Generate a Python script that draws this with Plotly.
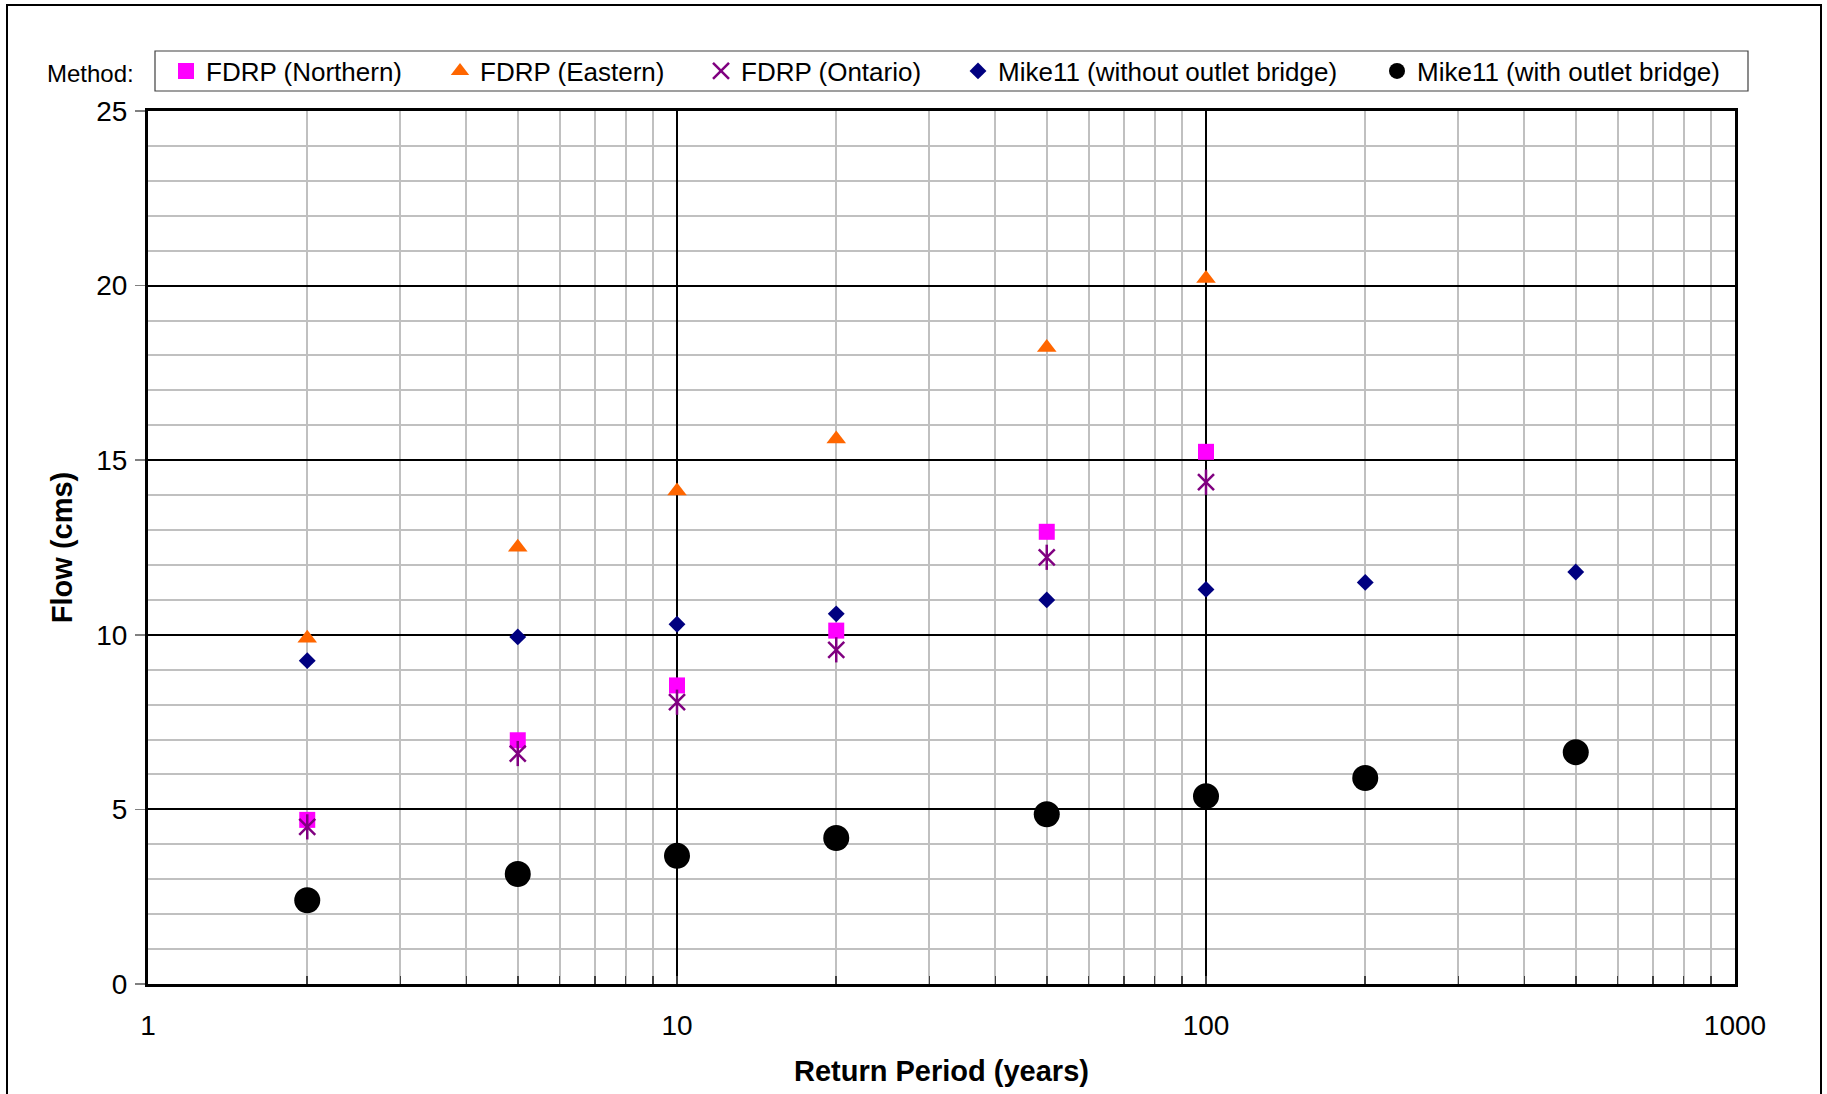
import plotly.graph_objects as go

# ---- data ----
return_periods_fdrp = [2, 5, 10, 20, 50, 100]
return_periods_mike = [2, 5, 10, 20, 50, 100, 200, 500]
fdrp_northern = [4.70, 6.98, 8.55, 10.12, 12.95, 15.24]
fdrp_eastern = [9.90, 12.51, 14.12, 15.61, 18.23, 20.20]
fdrp_ontario = [4.50, 6.60, 8.07, 9.57, 12.22, 14.37]
mike_without = [9.26, 9.94, 10.30, 10.60, 11.00, 11.30, 11.50, 11.80]
mike_with = [2.40, 3.15, 3.67, 4.18, 4.86, 5.38, 5.90, 6.64]

x_tickvals = [1, 10, 100, 1000]
x_ticktext = ["1", "10", "100", "1000"]
y_tickvals = [0, 5, 10, 15, 20, 25]

series_names = ["FDRP (Northern)", "FDRP (Eastern)", "FDRP (Ontario)",
                "Mike11 (without outlet bridge)", "Mike11 (with outlet bridge)"]

# ---- layout geometry (pixels; body margin removed by post_script) ----
W, H = 1827, 1094
L, R, T, B = 148, 1735, 111, 984
PW, PH = R - L, B - T


def px(p):
    return (p - L) / PW


def py(p):
    return (B - p) / PH


FONT = "Arial, Liberation Sans, sans-serif"

fig = go.Figure()

fig.add_trace(go.Scatter(x=return_periods_fdrp, y=fdrp_northern, mode="markers",
                         name=series_names[0], legend="legend",
                         marker=dict(symbol="square", size=16, color="#FF00FF", line=dict(width=0))))
fig.add_trace(go.Scatter(x=return_periods_fdrp, y=fdrp_eastern, mode="markers",
                         name=series_names[1], legend="legend2",
                         marker=dict(symbol="triangle-up", size=17, color="#FF6600", line=dict(width=0))))
fig.add_trace(go.Scatter(x=return_periods_fdrp, y=fdrp_ontario, mode="markers",
                         name=series_names[2], legend="legend3",
                         marker=dict(symbol="x-thin-open", size=16, color="#800080",
                                     line=dict(width=2.5, color="#800080"))))
fig.add_trace(go.Scatter(x=return_periods_fdrp, y=fdrp_ontario, mode="markers",
                         name=series_names[2], showlegend=False, hoverinfo="skip",
                         marker=dict(symbol="line-ns-open", size=18, color="#800080",
                                     line=dict(width=2.5, color="#800080"))))
fig.add_trace(go.Scatter(x=return_periods_mike, y=mike_without, mode="markers",
                         name=series_names[3], legend="legend4",
                         marker=dict(symbol="diamond", size=13, color="#000080", line=dict(width=0))))
fig.add_trace(go.Scatter(x=return_periods_mike, y=mike_with, mode="markers",
                         name=series_names[4], legend="legend5",
                         marker=dict(symbol="circle", size=26, color="#000000", line=dict(width=0))))

legend_sym_centers = [186, 460, 721, 978, 1397]
legend_y = py(71)
leg_common = dict(orientation="h", xanchor="left", yanchor="middle", y=legend_y,
                  bgcolor="rgba(0,0,0,0)", borderwidth=0,
                  font=dict(family=FONT, size=26, color="black"),
                  itemsizing="trace")
legends = {}
for i, c in enumerate(legend_sym_centers):
    key = "legend" if i == 0 else f"legend{i+1}"
    legends[key] = dict(x=px(c - 20), **leg_common)

fig.update_layout(
    width=W, height=H,
    margin=dict(l=L, r=W - R, t=T, b=H - B),
    paper_bgcolor="white", plot_bgcolor="white",
    font=dict(family=FONT, size=28, color="black"),
    showlegend=True,
    **legends,
    xaxis=dict(
        type="log", range=[0, 3],
        tickvals=x_tickvals, ticktext=x_ticktext,
        showgrid=True, gridcolor="black", gridwidth=2,
        ticks="inside", ticklen=8, tickcolor="#404040", tickwidth=1.5,
        minor=dict(dtick="D1", showgrid=True, gridcolor="#C0C0C0", gridwidth=2,
                   ticks="inside", ticklen=8, tickcolor="#404040", tickwidth=1.5),
        showline=True, linecolor="black", linewidth=3, mirror=True,
        zeroline=False,
        tickfont=dict(family=FONT, size=28, color="black"),
        ticklabelstandoff=14,
        title=dict(text="<b>Return Period (years)</b>", standoff=22,
                   font=dict(family=FONT, size=29, color="black")),
    ),
    yaxis=dict(
        range=[0, 25], tickvals=y_tickvals,
        showgrid=True, gridcolor="black", gridwidth=2,
        ticks="outside", ticklen=10, tickcolor="#808080", tickwidth=1.5,
        minor=dict(dtick=1, showgrid=True, gridcolor="#C0C0C0", gridwidth=2),
        showline=True, linecolor="black", linewidth=3, mirror=True,
        zeroline=False,
        tickfont=dict(family=FONT, size=28, color="black"),
        ticklabelstandoff=2,
        title=dict(text="<b>Flow (cms)</b>", standoff=16,
                   font=dict(family=FONT, size=29, color="black")),
    ),
    shapes=[
        # outer chart border
        dict(type="rect", xref="paper", yref="paper",
             x0=px(7), x1=px(1821), y0=py(1110), y1=py(5),
             line=dict(color="black", width=2), fillcolor="rgba(0,0,0,0)", layer="below"),
        # legend box
        dict(type="rect", xref="paper", yref="paper",
             x0=px(155), x1=px(1748), y0=py(91), y1=py(51),
             line=dict(color="#404040", width=1.2), fillcolor="rgba(0,0,0,0)"),
    ],
    annotations=[
        dict(text="Method:", xref="paper", yref="paper", x=px(136), y=py(74),
             xanchor="right", yanchor="middle", showarrow=False,
             font=dict(family=FONT, size=24, color="black")),
    ],
)

fig.write_html("out.html",
               config={"displayModeBar": False, "staticPlot": True},
               post_script="document.body.style.margin='0';document.body.style.overflow='hidden';")
